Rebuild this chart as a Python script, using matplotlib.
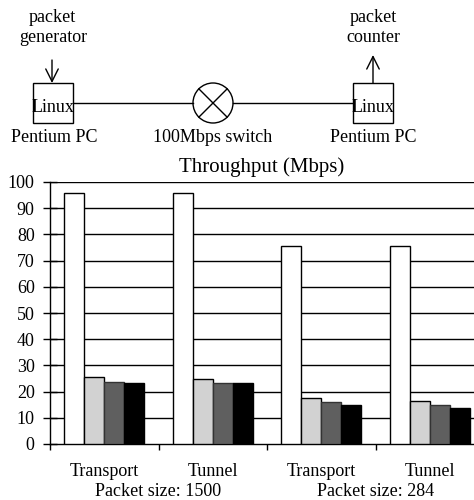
import matplotlib
matplotlib.use("Agg")
import matplotlib.pyplot as plt
import numpy as np
from matplotlib.patches import Rectangle, Circle

plt.rcParams['font.family'] = ['Liberation Serif', 'DejaVu Serif']

# throughput values
groups = ["Transport", "Tunnel", "Transport", "Tunnel"]
sizes = ["Packet size: 1500", "Packet size: 284"]
s1 = [95.8, 95.8, 75.6, 75.6]
s2 = [25.4, 24.9, 17.4, 16.5]
s3 = [23.5, 23.2, 15.9, 14.9]
s4 = [23.3, 23.2, 14.8, 13.7]
series = [s1, s2, s3, s4]
colors = ["white", "#d2d2d2", "#5f5f5f", "black"]
yticks = list(range(0, 101, 10))

W, H = 474, 500
fig = plt.figure(figsize=(W / 100, H / 100), dpi=100)

# top diagram, drawn in pixel coordinates
axd = fig.add_axes([0, 0, 1, 1])
axd.set_xlim(0, W)
axd.set_ylim(H, 0)
axd.axis("off")
lw = 1.0
axd.add_patch(Rectangle((33, 83), 40, 40, fill=False, lw=lw, ec="black"))
axd.add_patch(Rectangle((353, 83), 40, 40, fill=False, lw=lw, ec="black"))
axd.plot([73, 193], [103, 103], color="black", lw=lw)
axd.plot([233, 353], [103, 103], color="black", lw=lw)
axd.add_patch(Circle((213, 103), 20, fill=False, lw=lw, ec="black"))
d = 20 / np.sqrt(2)
axd.plot([213 - d, 213 + d], [103 - d, 103 + d], color="black", lw=lw)
axd.plot([213 - d, 213 + d], [103 + d, 103 - d], color="black", lw=lw)
arr = dict(arrowstyle="->,head_length=0.5,head_width=0.25", lw=lw,
           color="black", mutation_scale=18, shrinkA=0, shrinkB=0)
axd.annotate("", xy=(52, 83), xytext=(52, 60), arrowprops=arr)
axd.annotate("", xy=(373, 55), xytext=(373, 83), arrowprops=arr)
fs = 13
axd.text(52, 18, "packet", ha="center", va="center", fontsize=fs)
axd.text(53, 38, "generator", ha="center", va="center", fontsize=fs)
axd.text(373, 18, "packet", ha="center", va="center", fontsize=fs)
axd.text(373, 38, "counter", ha="center", va="center", fontsize=fs)
axd.text(53, 107, "Linux", ha="center", va="center", fontsize=fs)
axd.text(373, 107, "Linux", ha="center", va="center", fontsize=fs)
axd.text(54, 137, "Pentium PC", ha="center", va="center", fontsize=fs)
axd.text(213, 137, "100Mbps switch", ha="center", va="center", fontsize=fs)
axd.text(373, 137, "Pentium PC", ha="center", va="center", fontsize=fs)

# bar chart
ax = fig.add_axes([50 / W, 56 / H, 434 / W, 262 / H])
x = np.arange(len(groups))
w = 20 / 108
for i, (vals, c) in enumerate(zip(series, colors)):
    ec = "black" if i != 2 else "#333333"
    ax.bar(x + (i - 1.5) * w, vals, w, color=c, edgecolor=ec, lw=1.0, zorder=3)

ax.set_xlim(-0.5, len(groups) - 0.5)
ax.set_ylim(0, 100)
ax.set_yticks(yticks)
ax.tick_params(axis="y", labelsize=13, direction="inout", length=10, width=1, pad=6)
for t in yticks[1:]:
    ax.axhline(t, color="black", lw=1.0, zorder=1)
ax.set_xticks(np.arange(-0.5, len(groups) - 0.5, 1.0))
ax.set_xticklabels([])
ax.tick_params(axis="x", direction="out", length=4, width=1)
for s in ["top", "right"]:
    ax.spines[s].set_visible(False)
ax.spines["left"].set_linewidth(1.0)
ax.spines["bottom"].set_linewidth(1.0)

ax.text(1.45, 105.5, "Throughput (Mbps)", ha="center", va="center", fontsize=15)
for xi, g in zip(x, groups):
    ax.text(xi, -10.5, g, ha="center", va="center", fontsize=13)
for k, s in enumerate(sizes):
    ax.text(0.5 + 2 * k, -18.2, s, ha="center", va="center", fontsize=13)

fig.savefig("out.png", dpi=100)
